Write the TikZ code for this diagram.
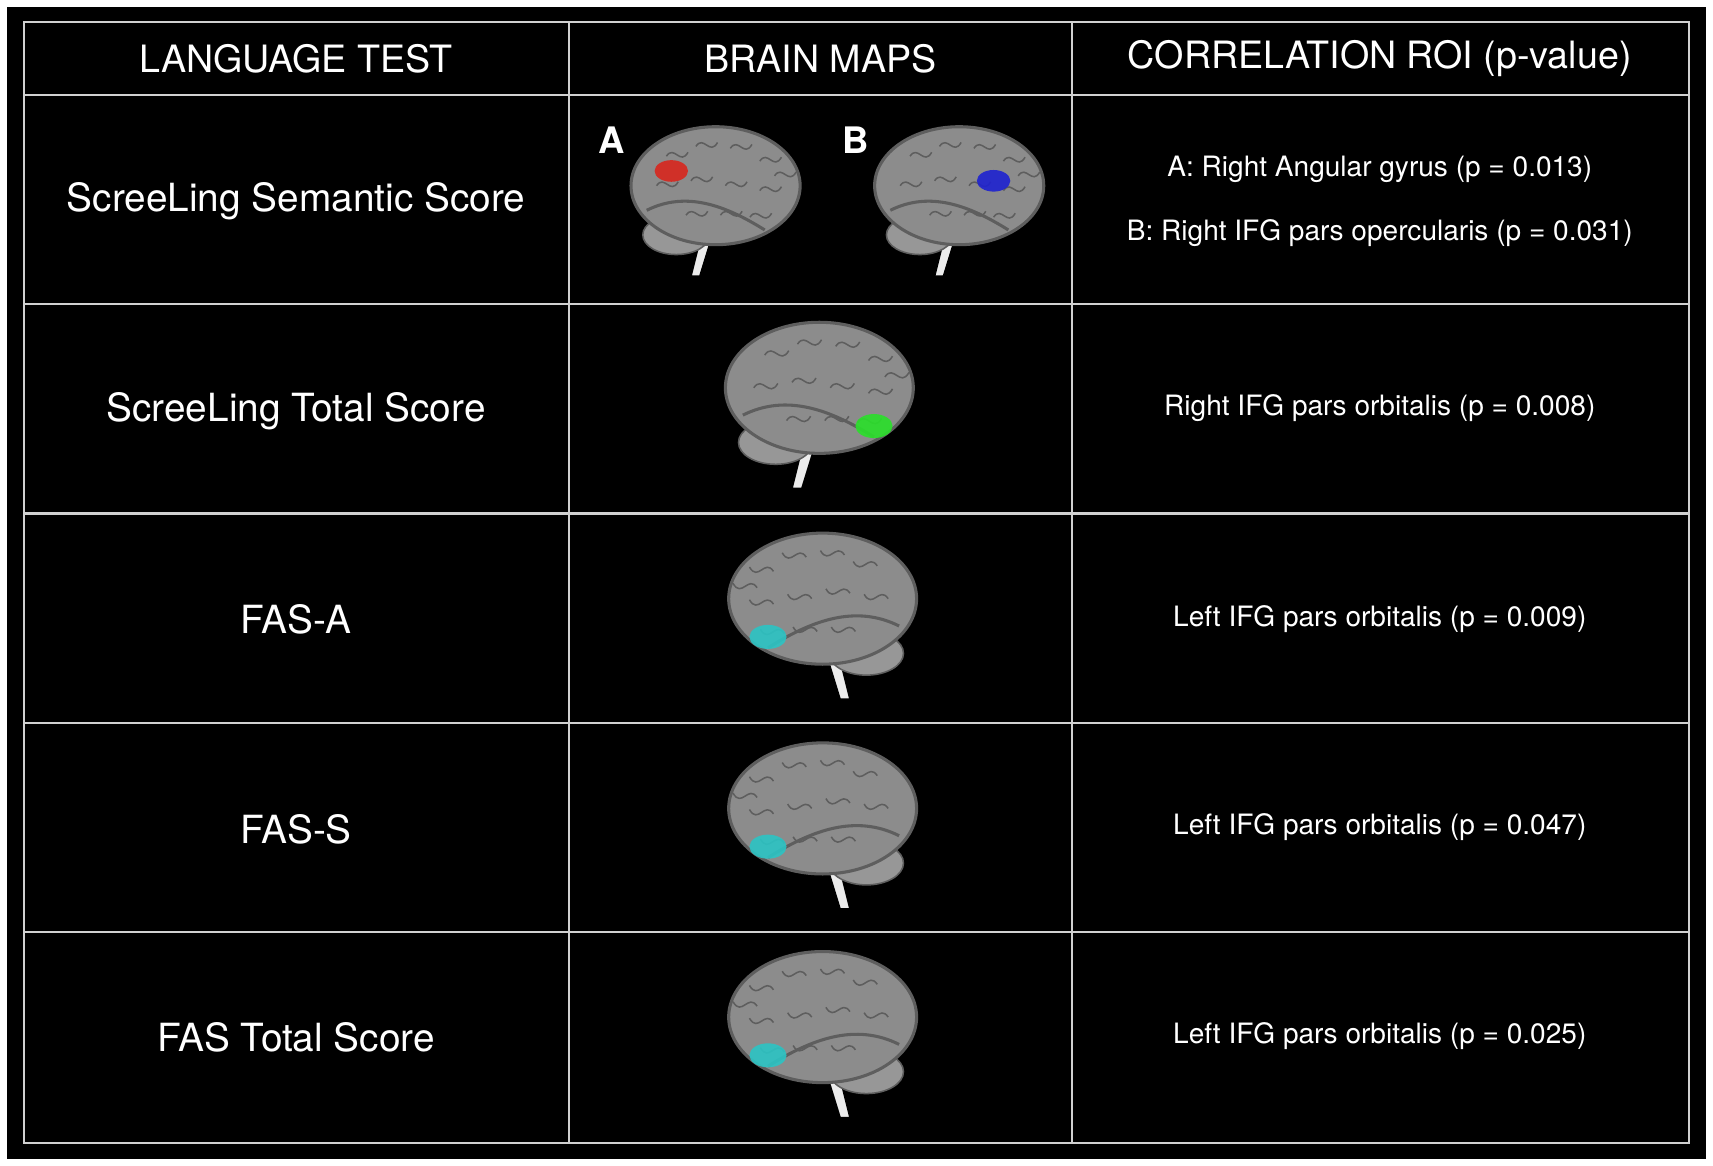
\documentclass[tikz,border=0pt]{standalone}
\usepackage{fontspec}
\setmainfont{TeX Gyre Heros}
\usetikzlibrary{positioning}
\definecolor{GRID}{HTML}{D0D0D0}
\definecolor{BRAIN}{HTML}{8C8C8C}
\definecolor{BRAIN_D}{HTML}{5E5E5E}
\definecolor{ROI_RED}{HTML}{D8261E}
\definecolor{ROI_BLUE}{HTML}{1E22D0}
\definecolor{ROI_GREEN}{HTML}{2AE02A}
\definecolor{ROI_CYAN}{HTML}{2CC4C4}
\tikzset{
	every node/.style = {text=white},
	head/.style = {font=\fontsize{9.8}{12}\selectfont},
	test/.style = {font=\fontsize{10.1}{13}\selectfont},
	roi/.style = {font=\fontsize{7.3}{10}\selectfont},
	gridline/.style = {draw=GRID, line width=0.6pt}
}
% brain: #1 scale, #2 centre, #3 facing (1 or -1), #4 colour, #5 region
\newcommand{\brainpic}[5][1]{
	\begin{scope}[shift={#2}, scale=#1, xscale=#3]
		\draw[fill=white!85!gray] (-12,40) -- (-25,92) -- (-16,92) -- (0,40) -- cycle;
		\draw[fill=BRAIN!90!white, draw=BRAIN_D] (-40,50) ellipse (34 and 20);
		\draw[fill=BRAIN, draw=BRAIN_D, thick] (0,0) ellipse (86 and 60);
		\foreach \xx/\yy in {-50/-30,-20/-40,15/-38,45/-25,-60/0,-25/-5,10/0,45/5,-30/30,5/30,35/32,60/-10}
			\draw[BRAIN_D, thin] (\xx,\yy) .. controls (\xx+8,\yy-12) and (\xx+14,\yy+10) .. (\xx+22,\yy-4);
		\draw[BRAIN_D, thick] (-70,25) .. controls (-30,5) and (10,20) .. (50,45);
		\fill[#4, opacity=.9] #5 ellipse (17 and 11);
	\end{scope}}
\begin{document}
\begin{tikzpicture}[x=0.01cm, y=-0.01cm]
	\fill[white] (0,0) rectangle (1568,1067);
	\fill[black] (6,6) rectangle (1562,1061);
	% grid
	\draw[gridline] (22,20) rectangle (1546,1046);
	\foreach \xl in {521,981}
		\draw[gridline] (\xl,20) -- (\xl,1046);
	\foreach \yl in {87,278,470,662,853}
		\draw[gridline] (22,\yl) -- (1546,\yl);
	% header
	\node[head] (hTest) at (271,54) {LANGUAGE TEST};
	\node[head] (hMaps) at (751,54) {BRAIN MAPS};
	\node[head] (hRoi) at (1263,54) {CORRELATION ROI (p-value)};
	% tests
	\node[test] (tSem) at (271,184) {ScreeLing Semantic Score};
	\node[test] (tTot) at (271,376) {ScreeLing Total Score};
	\node[test] (tFasA) at (271,567) {FAS-A};
	\node[test] (tFasS) at (271,759) {FAS-S};
	\node[test] (tFas) at (271,950) {FAS Total Score};
	% maps
	\brainpic[0.9]{(655,170)}{1}{ROI_RED}{(-45,-15)}
	\brainpic[0.9]{(878,170)}{1}{ROI_BLUE}{(35,-5)}
	\node[font=\bfseries\fontsize{9.5}{12}\selectfont] (lA) at (560,128) {A};
	\node[font=\bfseries\fontsize{9.5}{12}\selectfont] (lB) at (783,128) {B};
	\brainpic{(750,355)}{1}{ROI_GREEN}{(50,35)}
	\brainpic{(753,548)}{-1}{ROI_CYAN}{(50,35)}
	\brainpic{(753,740)}{-1}{ROI_CYAN}{(50,35)}
	\brainpic{(753,931)}{-1}{ROI_CYAN}{(50,35)}
	% ROI
	\node[roi] (rA) at (1263,155) {A: Right Angular gyrus (p = 0.013)};
	\node[roi] (rB) at (1263,213) {B: Right IFG pars opercularis (p = 0.031)};
	\node[roi] (rTot) at (1263,374) {Right IFG pars orbitalis (p = 0.008)};
	\node[roi] (rFasA) at (1263,567) {Left IFG pars orbitalis (p = 0.009)};
	\node[roi] (rFasS) at (1263,757) {Left IFG pars orbitalis (p = 0.047)};
	\node[roi] (rFas) at (1263,948) {Left IFG pars orbitalis (p = 0.025)};
\end{tikzpicture}
\end{document}
